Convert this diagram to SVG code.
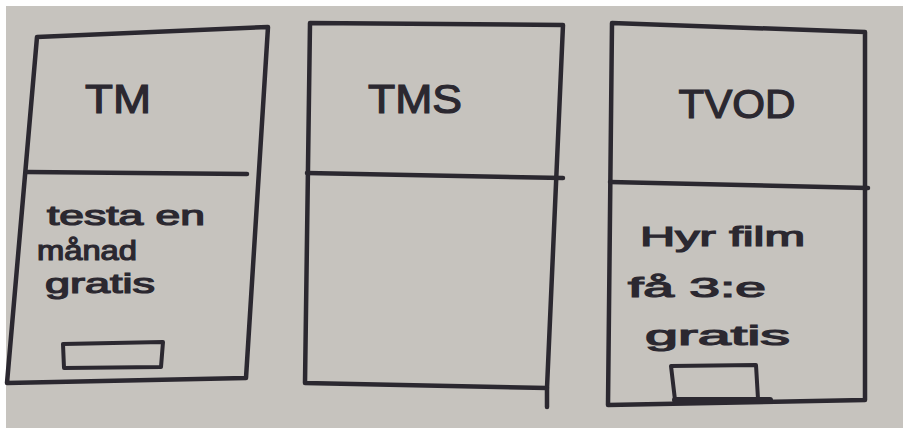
<svg xmlns="http://www.w3.org/2000/svg" width="903" height="428" viewBox="0 0 903 428">
<style>
.ln{fill:none;stroke:#2b2830;stroke-width:4.5;stroke-linecap:round;stroke-linejoin:round}
.btn{fill:none;stroke:#2b2830;stroke-width:4;stroke-linejoin:round}
.t{font-family:"Liberation Sans","DejaVu Sans",sans-serif;fill:#2b2830;stroke:#2b2830;stroke-width:1.2}
.title{font-size:40px}
.body{font-size:27px}
</style>
<rect x="0" y="0" width="903" height="428" fill="#fefefe"/>
<rect x="6" y="6" width="897" height="422" fill="#c6c3be"/>
<g id="panel-tm">
<path class="ln" d="M37,37 L268,27 L246,378 L7,383 Z"/>
<path class="ln" d="M27,172 L247,174"/>
<text class="t title" x="118" y="113" text-anchor="middle" textLength="66" lengthAdjust="spacingAndGlyphs">TM</text>
<text class="t body" x="47" y="225" textLength="158" lengthAdjust="spacingAndGlyphs">testa en</text>
<text class="t body" x="37" y="260" textLength="100" lengthAdjust="spacingAndGlyphs">månad</text>
<text class="t body" x="45" y="293" textLength="110" lengthAdjust="spacingAndGlyphs">gratis</text>
<path class="btn" d="M63,344 L163,342 L161,367 L64,368 Z"/>
</g>
<g id="panel-tms">
<path class="ln" d="M310,23 L563,25 L547,388 L305,383 Z"/>
<path class="ln" d="M547,388 L547,407"/>
<path class="ln" d="M307,173 L563,178"/>
<text class="t title" x="415" y="113" text-anchor="middle" textLength="94" lengthAdjust="spacingAndGlyphs">TMS</text>
</g>
<g id="panel-tvod">
<path class="ln" d="M612,23 L865,32 L865,400 L608,405 Z"/>
<path class="ln" d="M610,182 L868,188"/>
<text class="t title" x="737" y="118" text-anchor="middle" textLength="117" lengthAdjust="spacingAndGlyphs">TVOD</text>
<text class="t body" x="640" y="246" textLength="165" lengthAdjust="spacingAndGlyphs">Hyr film</text>
<text class="t body" x="628" y="297" textLength="138" lengthAdjust="spacingAndGlyphs">få 3:e</text>
<text class="t body" x="645" y="345" textLength="145" lengthAdjust="spacingAndGlyphs">gratis</text>
<path class="btn" d="M675,400 L671,366 L756,365 L758,399"/>
<path class="ln" d="M675,400 L770,400" style="stroke-width:6"/>
</g>
<g id="connectors"/>
</svg>
